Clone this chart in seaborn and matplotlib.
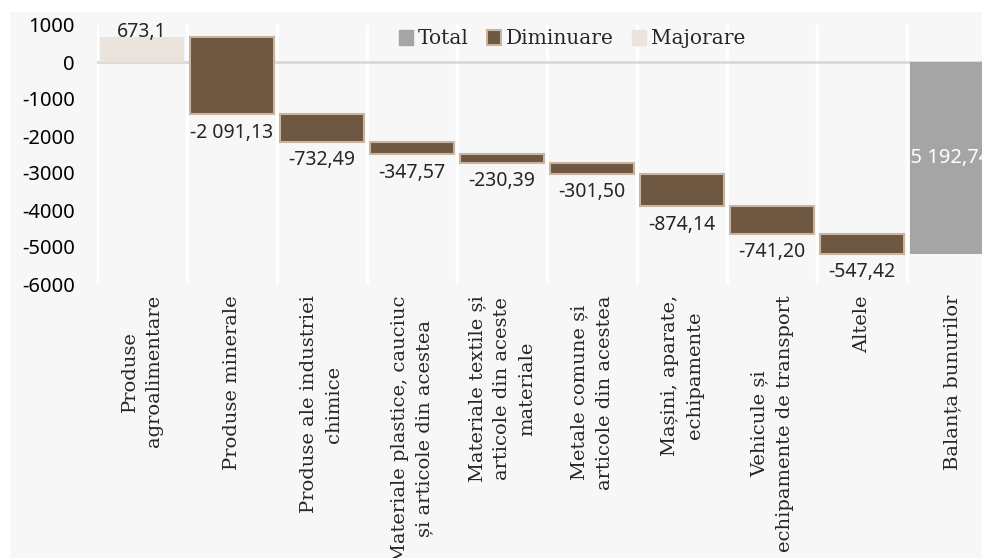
import numpy as np
import pandas as pd
import matplotlib
matplotlib.use('Agg')
import matplotlib.pyplot as plt
from matplotlib.patches import Patch, Rectangle
import seaborn as sns

# categories (x axis) and changes, total is the sum of the changes
categories = ["Produse\nagroalimentare", "Produse minerale", "Produse ale industriei\nchimice",
              "Materiale plastice, cauciuc\nși articole din acestea",
              "Materiale textile și\narticole din aceste\nmateriale",
              "Metale comune și\narticole din acestea", "Mașini, aparate,\nechipamente",
              "Vehicule și\nechipamente de transport", "Altele", "Balanța bunurilor"]
changes = [673.1, -2091.13, -732.49, -347.57, -230.39, -301.50, -874.14, -741.20, -547.42]
decimals = [1, 2, 2, 2, 2, 2, 2, 2, 2, 2]
yticks = [1000, 0, -1000, -2000, -3000, -4000, -5000, -6000]

colors = {'Total': '#a5a5a5', 'Diminuare': '#6f5841', 'Majorare': '#ebe4dc'}
edge_dim = '#c9b49f'
bg = '#f7f7f7'

total = round(sum(changes), 2)
ends = np.cumsum(changes)
starts = ends - np.array(changes)
df = pd.DataFrame({
    'cat': categories,
    'height': changes + [total],
    'bottom': list(starts) + [0.0],
    'kind': ['Majorare' if v > 0 else 'Diminuare' for v in changes] + ['Total'],
})

def fmt(v, d):
    s = f"{v:,.{d}f}"
    return s.replace(',', ' ').replace('.', ',')

sns.set_style('white')
plt.rcParams['font.family'] = ['Noto Sans', 'DejaVu Sans']

fig = plt.figure(figsize=(9.82, 5.58), dpi=100)
fig.patches.append(Rectangle((10 / 982, 0), 1, 1 - 12 / 558, transform=fig.transFigure,
                             facecolor=bg, edgecolor='none', zorder=-10))
ax = fig.add_axes([97 / 982, (558 - 284) / 558, 900 / 982, 259 / 558])
ax.set_facecolor(bg)

for kind in ['Majorare', 'Diminuare', 'Total']:
    sub = df[df['kind'] == kind]
    sns.barplot(data=sub, x='cat', y='height', order=categories, ax=ax,
                bottom=sub['bottom'].values, color=colors[kind], width=0.93,
                edgecolor=edge_dim if kind == 'Diminuare' else colors[kind],
                linewidth=1.5 if kind == 'Diminuare' else 0, zorder=3, saturation=1)

ax.axhline(0, color='#d9d9d9', lw=2, zorder=2)
ax.set_ylim(-6000, 1000)
ax.set_xlim(-0.5, len(categories) - 0.5)
ax.set_yticks(yticks)
ax.set_yticklabels([str(t) for t in yticks], fontsize=14.5, color='black')
ax.set_xticks(range(len(categories)))
ax.set_xticklabels(categories, rotation=90, fontsize=14, family='DejaVu Serif',
                   linespacing=1.5, ha='center', va='top', multialignment='center')
ax.set_xticks(np.arange(-0.5, len(categories) - 1, 1), minor=True)
ax.grid(which='minor', axis='x', color='white', lw=2.5, zorder=1)
ax.grid(which='major', visible=False)
ax.tick_params(which='both', length=0)
ax.tick_params(axis='y', pad=16)
ax.tick_params(axis='x', pad=8)
ax.set_xlabel('')
ax.set_ylabel('')
for sp in ax.spines.values():
    sp.set_visible(False)

# data labels
for i, row in df.iterrows():
    txt = fmt(row['height'], decimals[i])
    if row['kind'] == 'Majorare':
        ax.annotate(txt, (i, row['bottom'] + row['height']), xytext=(0, 0),
                    textcoords='offset points', ha='center', va='baseline', fontsize=14, zorder=5)
    elif row['kind'] == 'Diminuare':
        ax.annotate(txt, (i, row['bottom'] + row['height']), xytext=(0, -6),
                    textcoords='offset points', ha='center', va='top', fontsize=14, zorder=5)
    else:
        ax.text(i - 0.05, row['height'] / 2, txt, ha='center', va='center', fontsize=14.5,
                color='white', zorder=5)

handles = [Patch(facecolor=colors['Total'], edgecolor=colors['Total']),
           Patch(facecolor=colors['Diminuare'], edgecolor=edge_dim, linewidth=1.5),
           Patch(facecolor=colors['Majorare'], edgecolor=colors['Majorare'])]
ax.legend(handles, ['Total', 'Diminuare', 'Majorare'], loc='center', ncol=3, frameon=False,
          bbox_to_anchor=(572 / 982, 1 - 39 / 558), bbox_transform=fig.transFigure,
          handlelength=0.7, handleheight=0.7, handletextpad=0.25, columnspacing=0.9,
          prop={'family': 'DejaVu Serif', 'size': 14.5})

fig.savefig('out.png', dpi=100, facecolor='white')
